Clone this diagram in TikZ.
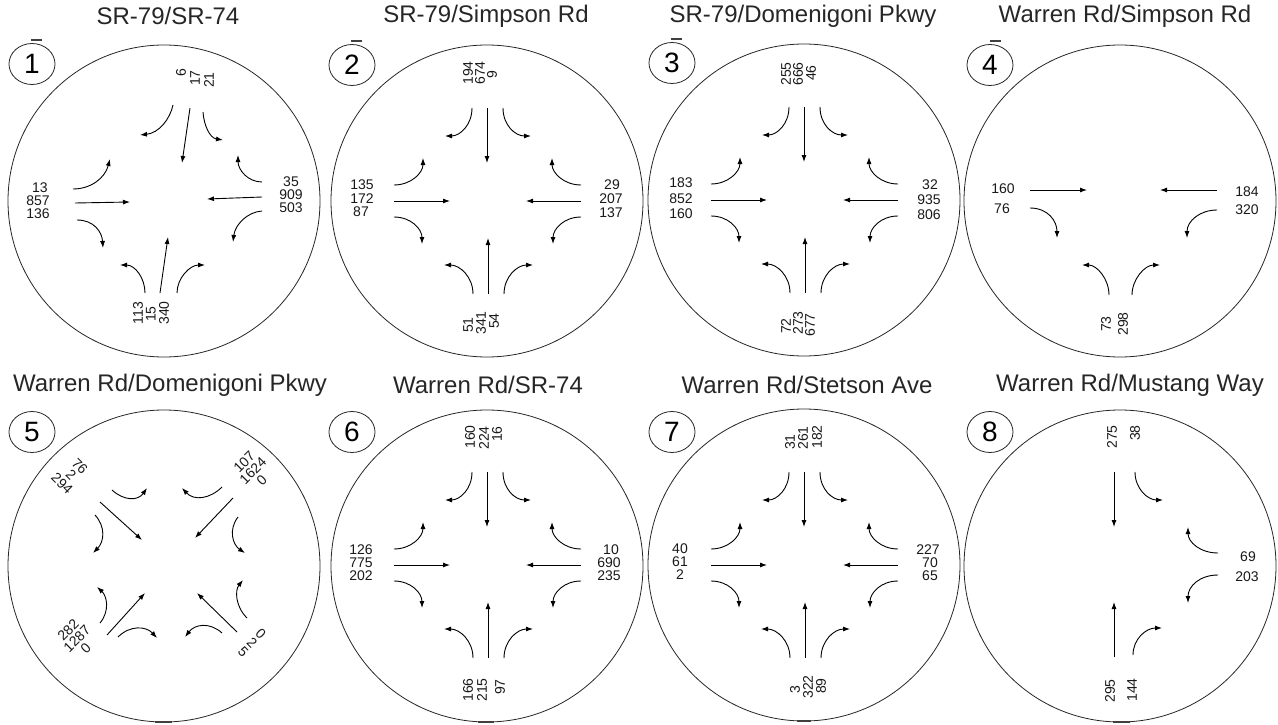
\documentclass[tikz,border=0pt]{standalone}
\usepackage{fontspec}
\setmainfont{Liberation Sans}
\usetikzlibrary{arrows.meta,shapes.geometric}
\tikzset{
  bigc/.style={draw=black!85, line width=0.8pt, circle, minimum size=312pt, inner sep=0pt},
  badge/.style={draw=black!85, line width=0.8pt, ellipse, minimum width=46pt, minimum height=41pt, inner sep=0pt, font=\fontsize{28}{28}\selectfont},
  arr/.style={line width=0.9pt, -{Latex[length=7pt,width=5pt]}},
  num/.style={inner sep=0pt, font=\fontsize{14}{12.5}\selectfont, text=black!90, align=center},
  vnum/.style={num, rotate=90},
  ttl/.style={inner sep=0pt, font=\fontsize{24}{24}\selectfont, text=black!85},
  tick/.style={line width=1.6pt, black!75},
}
\newcommand\fourway[1]{%
 \coordinate (#1wts) at (-93,-16); \coordinate (#1wtt) at (-64,-43);
 \draw[arr] (#1wts) .. controls (-76,-16) and (-64,-28) .. (#1wtt);
 \coordinate (#1wms) at (-93,0); \coordinate (#1wmt) at (-37,0);
 \draw[arr] (#1wms) -- (#1wmt);
 \coordinate (#1wbs) at (-93,16); \coordinate (#1wbt) at (-65,43);
 \draw[arr] (#1wbs) .. controls (-76,16) and (-65,28) .. (#1wbt);
 \coordinate (#1ets) at (94,-16); \coordinate (#1ett) at (65,-43);
 \draw[arr] (#1ets) .. controls (77,-16) and (65,-28) .. (#1ett);
 \coordinate (#1ems) at (94,0); \coordinate (#1emt) at (39,0);
 \draw[arr] (#1ems) -- (#1emt);
 \coordinate (#1ebs) at (94,16); \coordinate (#1ebt) at (66,43);
 \draw[arr] (#1ebs) .. controls (77,16) and (66,28) .. (#1ebt);
 \coordinate (#1nls) at (-15,-93); \coordinate (#1nlt) at (-42,-65);
 \draw[arr] (#1nls) .. controls (-15,-76) and (-27,-65) .. (#1nlt);
 \coordinate (#1nms) at (0,-93); \coordinate (#1nmt) at (0,-38);
 \draw[arr] (#1nms) -- (#1nmt);
 \coordinate (#1nrs) at (16,-93); \coordinate (#1nrt) at (44,-65);
 \draw[arr] (#1nrs) .. controls (16,-76) and (28,-65) .. (#1nrt);
 \coordinate (#1sls) at (-14,93); \coordinate (#1slt) at (-43,64);
 \draw[arr] (#1sls) .. controls (-14,76) and (-27,64) .. (#1slt);
 \coordinate (#1sms) at (1,93); \coordinate (#1smt) at (1,37);
 \draw[arr] (#1sms) -- (#1smt);
 \coordinate (#1srs) at (17,93); \coordinate (#1srt) at (46,64);
 \draw[arr] (#1srs) .. controls (17,76) and (30,64) .. (#1srt);
}
\begin{document}
\begin{tikzpicture}[x=1pt,y=-1pt]
\useasboundingbox (0,0) rectangle (1278,725);
\fill[white] (0,0) rectangle (1278,725);

% ---------- titles ----------
\node[ttl] (t1) at (168,16) {SR-79/SR-74};
\node[ttl] (t2) at (486,16) {SR-79/Simpson Rd};
\node[ttl] (t3) at (803,16) {SR-79/Domenigoni Pkwy};
\node[ttl] (t4) at (1125,16) {Warren Rd/Simpson Rd};
\node[ttl] (t5) at (170,385) {Warren Rd/Domenigoni Pkwy};
\node[ttl] (t6) at (488,385) {Warren Rd/SR-74};
\node[ttl] (t7) at (807,385) {Warren Rd/Stetson Ave};
\node[ttl] (t8) at (1130,385) {Warren Rd/Mustang Way};

% ---------- big circles ----------
\node[bigc] (C1) at (164,201) {};
\node[bigc] (C2) at (487,201) {};
\node[bigc] (C3) at (804,200) {};
\node[bigc] (C4) at (1120,201) {};
\node[bigc] (C5) at (164,566) {};
\node[bigc] (C6) at (487,566) {};
\node[bigc] (C7) at (804,565) {};
\node[bigc] (C8) at (1120,566) {};

% ---------- badges ----------
\node[badge] (B1) at (32,64) {1};
\node[badge] (B2) at (352,65) {2};
\node[badge] (B3) at (672,63) {3};
\node[badge] (B4) at (990,65) {4};
\node[badge] (B5) at (32,432) {5};
\node[badge] (B6) at (352,432) {6};
\node[badge] (B7) at (672,432) {7};
\node[badge] (B8) at (990,432) {8};
\draw[tick] (31,40) -- (42,40);
\draw[tick] (351,41) -- (362,41);
\draw[tick] (671,39) -- (682,39);
\draw[tick] (990,41) -- (1001,41);
\draw[tick] (155,722) -- (172,722);
\draw[tick] (478,722) -- (494,722);
\draw[tick] (797,721) -- (811,721);
\draw[tick] (1113,722) -- (1130,722);

% ---------- circle 1 (hand-drawn) ----------
\coordinate (a1nls) at (173,105); \coordinate (a1nlt) at (140,135);
\draw[arr] (a1nls) .. controls (170,119) and (159,133) .. (a1nlt);
\coordinate (a1nms) at (190,108); \coordinate (a1nmt) at (182,163);
\draw[arr] (a1nms) -- (a1nmt);
\coordinate (a1nrs) at (203,112); \coordinate (a1nrt) at (223,140);
\draw[arr] (a1nrs) .. controls (204,126) and (210,138) .. (a1nrt);
\coordinate (a1ets) at (262,182); \coordinate (a1ett) at (238,155);
\draw[arr] (a1ets) .. controls (248,182) and (238,170) .. (a1ett);
\coordinate (a1ems) at (262,197); \coordinate (a1emt) at (207,199);
\draw[arr] (a1ems) -- (a1emt);
\coordinate (a1ebs) at (262,211); \coordinate (a1ebt) at (233,242);
\draw[arr] (a1ebs) .. controls (247,212) and (235,225) .. (a1ebt);
\coordinate (a1wts) at (73,189); \coordinate (a1wtt) at (110,159);
\draw[arr] (a1wts) .. controls (91,189) and (105,178) .. (a1wtt);
\coordinate (a1wms) at (75,203); \coordinate (a1wmt) at (130,202);
\draw[arr] (a1wms) -- (a1wmt);
\coordinate (a1wbs) at (77,220); \coordinate (a1wbt) at (103,248);
\draw[arr] (a1wbs) .. controls (94,220) and (102,232) .. (a1wbt);
\coordinate (a1sls) at (145,293); \coordinate (a1slt) at (120,265);
\draw[arr] (a1sls) .. controls (145,278) and (135,265) .. (a1slt);
\coordinate (a1sms) at (160,293); \coordinate (a1smt) at (168,237);
\draw[arr] (a1sms) -- (a1smt);
\coordinate (a1srs) at (177,293); \coordinate (a1srt) at (205,265);
\draw[arr] (a1srs) .. controls (177,278) and (190,265) .. (a1srt);

\node[num] (n1w1) at (40,188) {13};
\node[num] (n1w2) at (38,201) {857};
\node[num] (n1w3) at (38,214) {136};
\node[num] (n1e1) at (291,182) {35};
\node[num] (n1e2) at (291,195) {909};
\node[num] (n1e3) at (291,208) {503};
\node[vnum] (n1n1) at (181,73) {6};
\node[vnum] (n1n2) at (195,78) {17};
\node[vnum] (n1n3) at (209,80) {21};
\node[vnum] (n1s1) at (138,313) {113};
\node[vnum] (n1s2) at (151,314) {15};
\node[vnum] (n1s3) at (164,313) {340};

% ---------- circle 2 ----------
\begin{scope}[shift={(487,201)}] \fourway{a2} \end{scope}
\node[num] (n2w1) at (362,185) {135};
\node[num] (n2w2) at (362,199) {172};
\node[num] (n2w3) at (361,212) {87};
\node[num] (n2e1) at (612,185) {29};
\node[num] (n2e2) at (611,199) {207};
\node[num] (n2e3) at (611,213) {137};
\node[vnum] (n2n1) at (468,73) {194};
\node[vnum] (n2n2) at (480,73) {674};
\node[vnum] (n2n3) at (492,75) {9};
\node[vnum] (n2s1) at (468,325) {51};
\node[vnum] (n2s2) at (481,323) {341};
\node[vnum] (n2s3) at (494,321) {54};

% ---------- circle 3 ----------
\begin{scope}[shift={(804,200)}] \fourway{a3} \end{scope}
\node[num] (n3w1) at (681,183) {183};
\node[num] (n3w2) at (681,199) {852};
\node[num] (n3w3) at (681,214) {160};
\node[num] (n3e1) at (930,185) {32};
\node[num] (n3e2) at (929,200) {935};
\node[num] (n3e3) at (929,215) {806};
\node[vnum] (n3n1) at (786,74) {255};
\node[vnum] (n3n2) at (798,74) {666};
\node[vnum] (n3n3) at (811,73) {46};
\node[vnum] (n3s1) at (786,326) {72};
\node[vnum] (n3s2) at (798,323) {273};
\node[vnum] (n3s3) at (810,325) {677};

% ---------- circle 4 ----------
\coordinate (a4wms) at (1030,190); \coordinate (a4wmt) at (1087,190);
\draw[arr] (a4wms) -- (a4wmt);
\coordinate (a4wbs) at (1030,208); \coordinate (a4wbt) at (1057,238);
\draw[arr] (a4wbs) .. controls (1048,208) and (1057,221) .. (a4wbt);
\coordinate (a4ems) at (1217,190); \coordinate (a4emt) at (1160,190);
\draw[arr] (a4ems) -- (a4emt);
\coordinate (a4ebs) at (1217,210); \coordinate (a4ebt) at (1187,238);
\draw[arr] (a4ebs) .. controls (1200,210) and (1187,221) .. (a4ebt);
\coordinate (a4sls) at (1109,295); \coordinate (a4slt) at (1082,265);
\draw[arr] (a4sls) .. controls (1109,279) and (1097,265) .. (a4slt);
\coordinate (a4srs) at (1132,295); \coordinate (a4srt) at (1160,265);
\draw[arr] (a4srs) .. controls (1132,279) and (1145,265) .. (a4srt);
\node[num] (n4w1) at (1003,189) {160};
\node[num] (n4w2) at (1002,209) {76};
\node[num] (n4e1) at (1247,192) {184};
\node[num] (n4e2) at (1247,210) {320};
\node[vnum] (n4s1) at (1106,324) {73};
\node[vnum] (n4s2) at (1123,324) {298};

% ---------- circle 5 (diagonal) ----------
\coordinate (a5nws) at (100,502); \coordinate (a5nwt) at (142,540);
\draw[arr] (a5nws) -- (a5nwt);
\coordinate (a5nes) at (233,498); \coordinate (a5net) at (195,538);
\draw[arr] (a5nes) -- (a5net);
\coordinate (a5sws) at (107,635); \coordinate (a5swt) at (145,593);
\draw[arr] (a5sws) -- (a5swt);
\coordinate (a5ses) at (237,632); \coordinate (a5set) at (197,593);
\draw[arr] (a5ses) -- (a5set);
\coordinate (a5tls) at (112,490); \coordinate (a5tlt) at (147,488);
\draw[arr] (a5tls) .. controls (124,501) and (138,501) .. (a5tlt);
\coordinate (a5lts) at (95,515); \coordinate (a5ltt) at (93,553);
\draw[arr] (a5lts) .. controls (106,527) and (104,542) .. (a5ltt);
\coordinate (a5trs) at (222,487); \coordinate (a5trt) at (182,488);
\draw[arr] (a5trs) .. controls (210,499) and (194,501) .. (a5trt);
\coordinate (a5rts) at (238,517); \coordinate (a5rtt) at (245,553);
\draw[arr] (a5rts) .. controls (228,530) and (233,545) .. (a5rtt);
\coordinate (a5lbs) at (100,623); \coordinate (a5lbt) at (97,587);
\draw[arr] (a5lbs) .. controls (110,611) and (107,596) .. (a5lbt);
\coordinate (a5bls) at (118,637); \coordinate (a5blt) at (157,638);
\draw[arr] (a5bls) .. controls (130,625) and (146,626) .. (a5blt);
\coordinate (a5rbs) at (247,618); \coordinate (a5rbt) at (243,580);
\draw[arr] (a5rbs) .. controls (235,606) and (235,590) .. (a5rbt);
\coordinate (a5brs) at (222,633); \coordinate (a5brt) at (185,637);
\draw[arr] (a5brs) .. controls (210,622) and (195,624) .. (a5brt);
\node[num, rotate=-45] (n5tl) at (71,475) {76\\2\\294};
\node[num, rotate=45] (n5tr) at (253,471) {107\\1624\\0};
\node[num, rotate=45] (n5bl) at (77,639) {282\\1287\\0};
\node[num, rotate=-45] (n5br) at (252,643) {0\\2\\5};

% ---------- circle 6 ----------
\begin{scope}[shift={(487,565)}] \fourway{a6} \end{scope}
\node[num] (n6w1) at (361,550) {126};
\node[num] (n6w2) at (361,563) {775};
\node[num] (n6w3) at (361,576) {202};
\node[num] (n6e1) at (611,550) {10};
\node[num] (n6e2) at (609,563) {690};
\node[num] (n6e3) at (609,576) {235};
\node[vnum] (n6n1) at (470,437) {160};
\node[vnum] (n6n2) at (484,438) {224};
\node[vnum] (n6n3) at (497,434) {16};
\node[vnum] (n6s1) at (468,690) {166};
\node[vnum] (n6s2) at (482,690) {215};
\node[vnum] (n6s3) at (500,687) {97};

% ---------- circle 7 ----------
\begin{scope}[shift={(804,565)}] \fourway{a7} \end{scope}
\node[num] (n7w1) at (680,549) {40};
\node[num] (n7w2) at (680,562) {61};
\node[num] (n7w3) at (680,575) {2};
\node[num] (n7e1) at (928,550) {227};
\node[num] (n7e2) at (930,563) {70};
\node[num] (n7e3) at (930,576) {65};
\node[vnum] (n7n1) at (790,442) {31};
\node[vnum] (n7n2) at (803,438) {261};
\node[vnum] (n7n3) at (817,437) {182};
\node[vnum] (n7s1) at (795,690) {3};
\node[vnum] (n7s2) at (808,687) {322};
\node[vnum] (n7s3) at (821,686) {89};

% ---------- circle 8 ----------
\coordinate (a8nms) at (1114,472); \coordinate (a8nmt) at (1114,527);
\draw[arr] (a8nms) -- (a8nmt);
\coordinate (a8nrs) at (1135,472); \coordinate (a8nrt) at (1163,500);
\draw[arr] (a8nrs) .. controls (1135,489) and (1148,500) .. (a8nrt);
\coordinate (a8ets) at (1218,553); \coordinate (a8ett) at (1188,527);
\draw[arr] (a8ets) .. controls (1200,553) and (1188,542) .. (a8ett);
\coordinate (a8ebs) at (1218,575); \coordinate (a8ebt) at (1188,603);
\draw[arr] (a8ebs) .. controls (1200,575) and (1188,586) .. (a8ebt);
\coordinate (a8sms) at (1114,657); \coordinate (a8smt) at (1114,602);
\draw[arr] (a8sms) -- (a8smt);
\coordinate (a8srs) at (1133,655); \coordinate (a8srt) at (1162,628);
\draw[arr] (a8srs) .. controls (1133,639) and (1146,628) .. (a8srt);
\node[vnum] (n8n1) at (1112,437) {275};
\node[vnum] (n8n2) at (1135,433) {38};
\node[num] (n8e1) at (1248,557) {69};
\node[num] (n8e2) at (1247,577) {203};
\node[vnum] (n8s1) at (1110,691) {295};
\node[vnum] (n8s2) at (1132,690) {144};
\end{tikzpicture}
\end{document}
